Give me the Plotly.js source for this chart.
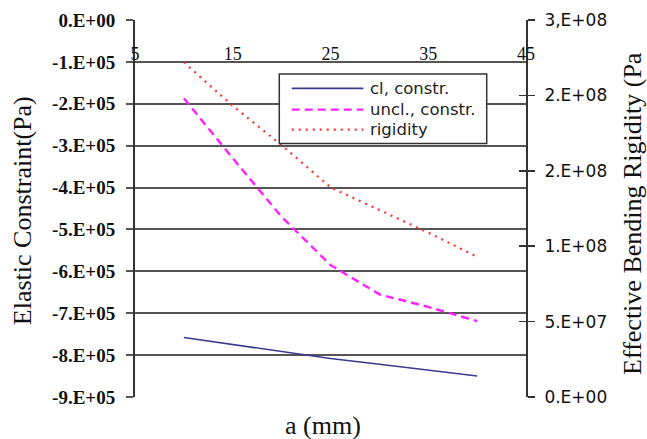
<!DOCTYPE html>
<html>
<head>
<meta charset="utf-8">
<script src="https://cdn.plot.ly/plotly-3.0.1.min.js"></script>
<style>
  html, body { margin: 0; padding: 0; background: #fff; }
  #chart { width: 647px; height: 439px; }
</style>
</head>
<body>
<div id="chart"></div>
<script>
// Crack length a (mm)
const aValues = [10, 15, 20, 25, 30, 35, 40];

// Elastic constraint (Pa), left axis
const clConstr = [-7.58e5, -7.75e5, -7.92e5, -8.08e5, -8.22e5, -8.36e5, -8.50e5];
const unclConstr = [-1.87e5, -3.30e5, -4.70e5, -5.85e5, -6.55e5, -6.85e5, -7.19e5];

// Effective bending rigidity (Pa), right axis
const rigidity = [2.22e8, 1.93e8, 1.67e8, 1.39e8, 1.24e8, 1.09e8, 0.93e8];

const seriesNames = ['cl, constr.', 'uncl., constr.', 'rigidity'];

// Tick labels
const xTickVals = [5, 15, 25, 35, 45];
const leftTickVals = [0, -1e5, -2e5, -3e5, -4e5, -5e5, -6e5, -7e5, -8e5, -9e5];
const leftTickText = ['0.E+00', '-1.E+05', '-2.E+05', '-3.E+05', '-4.E+05',
                      '-5.E+05', '-6.E+05', '-7.E+05', '-8.E+05', '-9.E+05'];
const rightTickVals = [0, 5e7, 1e8, 1.5e8, 2e8, 2.5e8];
const rightTickText = ['0.E+00', '5.E+07', '1.E+08', '2.E+08', '2.E+08', '3,E+08'];

const serif = 'Liberation Serif, Times New Roman, serif';
const sans = 'DejaVu Sans, Arial, sans-serif';

const lineStyles = [
  { color: '#3a3a90', width: 1.6, dash: 'solid' },
  { color: '#ff22ff', width: 2.4, dash: '8px,5px' },
  { color: '#ff3030', width: 2.2, dash: '2px,5px' }
];

const traces = [
  { x: aValues, y: clConstr, name: seriesNames[0], xaxis: 'x', yaxis: 'y',
    mode: 'lines', line: lineStyles[0], showlegend: false },
  { x: aValues, y: unclConstr, name: seriesNames[1], xaxis: 'x', yaxis: 'y',
    mode: 'lines', line: lineStyles[1], showlegend: false },
  { x: aValues, y: rigidity, name: seriesNames[2], xaxis: 'x', yaxis: 'y2',
    mode: 'lines', line: lineStyles[2], showlegend: false },
  // carrier for the inner half of the right-axis cross ticks
  { x: aValues, y: rigidity, xaxis: 'x', yaxis: 'y3', mode: 'lines',
    opacity: 0, hoverinfo: 'skip', showlegend: false, line: { width: 0 } }
];

// Boxed legend with long line samples
const legendBox = { x0: 0.369, x1: 0.8995, y0: 0.6725, y1: 0.8566 };
const legendRowsY = [0.8186, 0.7623, 0.7092];
const sampleX = [0.4008, 0.5839];
const textX = 0.5959;

const shapes = [{
  type: 'rect', xref: 'paper', yref: 'paper',
  x0: legendBox.x0, x1: legendBox.x1, y0: legendBox.y0, y1: legendBox.y1,
  fillcolor: '#ffffff', line: { color: '#333333', width: 1.5 }, layer: 'above'
}];
const annotations = [];
seriesNames.forEach((name, i) => {
  shapes.push({
    type: 'line', xref: 'paper', yref: 'paper',
    x0: sampleX[0], x1: sampleX[1], y0: legendRowsY[i], y1: legendRowsY[i],
    line: lineStyles[i], layer: 'above'
  });
  annotations.push({
    xref: 'paper', yref: 'paper', x: textX, y: legendRowsY[i],
    xanchor: 'left', yanchor: 'middle', showarrow: false, text: name,
    font: { family: sans, size: 16.5, color: '#222' }
  });
});

annotations.push(
  { xref: 'paper', yref: 'paper', x: -0.289, y: 0.493, textangle: -90,
    xanchor: 'center', yanchor: 'middle', showarrow: false,
    text: 'Elastic Constraint(Pa)', font: { family: serif, size: 26, color: '#111' } },
  { xref: 'paper', yref: 'paper', x: 1.274, y: 0.486, textangle: -90,
    xanchor: 'center', yanchor: 'middle', showarrow: false,
    text: 'Effective Bending Rigidity (Pa', font: { family: serif, size: 26, color: '#111' } },
  { xref: 'paper', yref: 'paper', x: 0.481, y: -0.076,
    xanchor: 'center', yanchor: 'middle', showarrow: false,
    text: 'a (mm)', font: { family: serif, size: 26, color: '#111' } }
);

const layout = {
  width: 647, height: 439,
  margin: { l: 135, r: 121, t: 20, b: 42 },
  paper_bgcolor: '#ffffff', plot_bgcolor: '#ffffff',
  showlegend: false,
  xaxis: {
    range: [5, 45], anchor: 'free', position: 8 / 9, side: 'top',
    tickvals: xTickVals, ticks: '', showgrid: false, zeroline: false, showline: false,
    tickfont: { family: serif, size: 18, color: '#111' }, ticklabelstandoff: -2
  },
  yaxis: {
    range: [-9e5, 0], tickvals: leftTickVals, ticktext: leftTickText,
    showgrid: true, gridcolor: '#555555', gridwidth: 2, zeroline: false,
    showline: true, linecolor: '#333', linewidth: 2,
    ticks: 'outside', ticklen: 7, tickwidth: 2, tickcolor: '#555555',
    ticklabelstandoff: 7,
    tickfont: { family: serif, size: 19, color: '#111', weight: 'bold' }
  },
  yaxis2: {
    range: [0, 2.5e8], overlaying: 'y', side: 'right', anchor: 'x',
    tickvals: rightTickVals, ticktext: rightTickText,
    showgrid: false, zeroline: false, showline: true, linecolor: '#333', linewidth: 2,
    ticks: 'outside', ticklen: 7, tickwidth: 1.5, tickcolor: '#333',
    ticklabelstandoff: 6,
    tickfont: { family: sans, size: 17, color: '#111' }
  },
  yaxis3: {
    range: [0, 2.5e8], overlaying: 'y', side: 'right', anchor: 'x',
    tickvals: rightTickVals, showticklabels: false,
    showgrid: false, zeroline: false, showline: false,
    ticks: 'inside', ticklen: 7, tickwidth: 1.5, tickcolor: '#333'
  },
  shapes: shapes,
  annotations: annotations
};

Plotly.newPlot('chart', traces, layout, { staticPlot: true, displayModeBar: false });
</script>
</body>
</html>
